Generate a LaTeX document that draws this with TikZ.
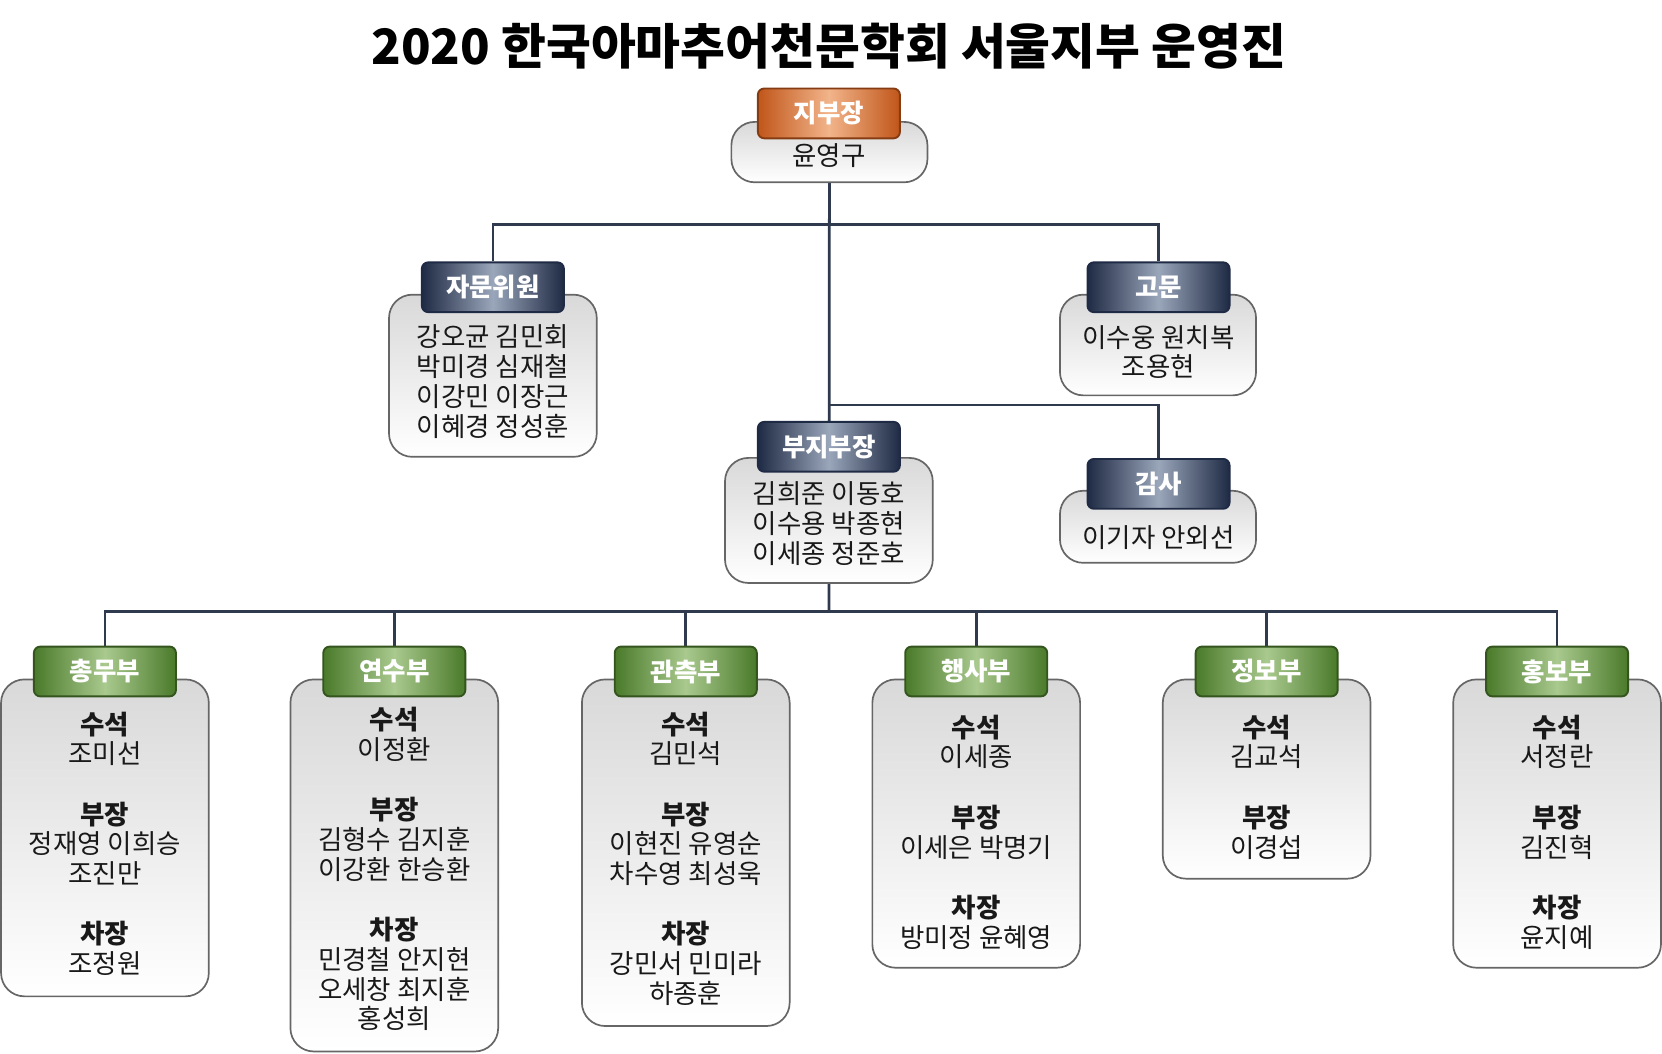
\documentclass[tikz,border=0pt]{standalone}
\usepackage{fontspec}
\setmainfont{Noto Sans CJK KR}
\usetikzlibrary{backgrounds}
\definecolor{ln}{HTML}{2F3A4F}
\definecolor{nv}{HTML}{1F2A44}
\definecolor{nvm}{HTML}{9AA6BA}
\definecolor{gr}{HTML}{4A7A2A}
\definecolor{grm}{HTML}{A9C98E}
\definecolor{orr}{HTML}{C0561A}
\definecolor{orm}{HTML}{F2B48A}
\tikzset{
 body/.style={draw=gray!80!black, line width=0.8pt, rounded corners=11pt, top color=gray!30, bottom color=white, inner sep=0pt},
 hdr/.style={rounded corners=3pt, line width=0.9pt, minimum width=67pt, minimum height=23.5pt, inner sep=0pt, text=white, font=\fontsize{12}{14}\selectfont\bfseries},
 navy/.style={hdr, draw=nv, left color=nv, right color=nv, middle color=nvm},
 green/.style={hdr, draw=gr!70!black, left color=gr, right color=gr, middle color=grm},
 orng/.style={hdr, draw=orr!70!black, left color=orr, right color=orr, middle color=orm},
 txt/.style={align=center, inner sep=0pt, font=\fontsize{12.5}{14}\selectfont, text=black!90},
 conn/.style={draw=ln, line width=1.3pt},
}
\newcommand\gb[1]{\textbf{#1}}
\begin{document}
\begin{tikzpicture}[x=0.5pt,y=-0.5pt]
\useasboundingbox (0,0) rectangle (1568,994);
\node (title) at (782,44) {\fontsize{23}{26}\selectfont\bfseries 2020 한국아마추어천문학회 서울지부 운영진};
% top
\node[body, minimum width=92.5pt, minimum height=28.5pt] (jbb) at (782.5,143.5) {};
\node[orng] (jbh) at (782,107) {지부장};
\node[txt] (jbt) at (782,147) {윤영구};
\node[body, minimum width=98pt, minimum height=76.5pt] (jmb) at (465,354.5) {};
\node[navy] (jmh) at (465,271) {자문위원};
\node[txt] (jmt) at (465,360) {강오균 김민회\\박미경 심재철\\이강민 이장근\\이혜경 정성훈};
\node[body, minimum width=92.5pt, minimum height=47.5pt] (gmb) at (1092.5,325.5) {};
\node[navy] (gmh) at (1093,271) {고문};
\node[txt] (gmt) at (1093,332) {이수웅 원치복\\조용현};
\node[body, minimum width=98pt, minimum height=59pt] (bjb) at (782,491) {};
\node[navy] (bjh) at (782,421.5) {부지부장};
\node[txt] (bjt) at (782,494) {김희준 이동호\\이수용 박종현\\이세종 정준호};
\node[body, minimum width=92.5pt, minimum height=34pt] (gsb) at (1092.5,497) {};
\node[navy] (gsh) at (1093,456.5) {감사};
\node[txt] (gst) at (1093,507) {이기자 안외선};
% departments
\foreach \n/\x/\h/\c/\ty/\name/\t in {
 a/99/149.5/790.5/796/총무부/{\gb{수석}\\조미선\\[14.5pt]\gb{부장}\\정재영 이희승\\조진만\\[14.5pt]\gb{차장}\\조정원},
 b/372/175.5/816.5/820/연수부/{\gb{수석}\\이정환\\[14.5pt]\gb{부장}\\김형수 김지훈\\이강환 한승환\\[14.5pt]\gb{차장}\\민경철 안지현\\오세창 최지훈\\홍성희},
 c/647/163.5/804.5/810/관측부/{\gb{수석}\\김민석\\[14.5pt]\gb{부장}\\이현진 유영순\\차수영 최성욱\\[14.5pt]\gb{차장}\\강민서 민미라\\하종훈},
 d/921/136/777/785/행사부/{\gb{수석}\\이세종\\[14.5pt]\gb{부장}\\이세은 박명기\\[14.5pt]\gb{차장}\\방미정 윤혜영},
 e/1195/94/735/742.5/정보부/{\gb{수석}\\김교석\\[14.5pt]\gb{부장}\\이경섭},
 f/1469/136/777/785/홍보부/{\gb{수석}\\서정란\\[14.5pt]\gb{부장}\\김진혁\\[14.5pt]\gb{차장}\\윤지예}} {
 \node[body, minimum width=98pt, minimum height=\h pt] (\n b) at (\x,\c) {};
 \node[green] (\n h) at (\x,633.5) {\name};
 \node[txt] (\n t) at (\x,\ty) {\t};
}
\coordinate (top) at (782,212);
\coordinate (mid) at (782,382);
\coordinate (bot) at (782,577);
\begin{scope}[on background layer]
\draw[conn] (jbb.south) -- (bot);
\draw[conn] (jmh.north) |- (top) -| (gmh.north);
\draw[conn] (mid) -| (gsh.north);
\draw[conn] (ah.north) |- (bot) -| (fh.north);
\foreach \n in {b,c,d,e} \draw[conn] (\n h.north) -- (\n h.north |- bot);
\end{scope}
\end{tikzpicture}
\end{document}
